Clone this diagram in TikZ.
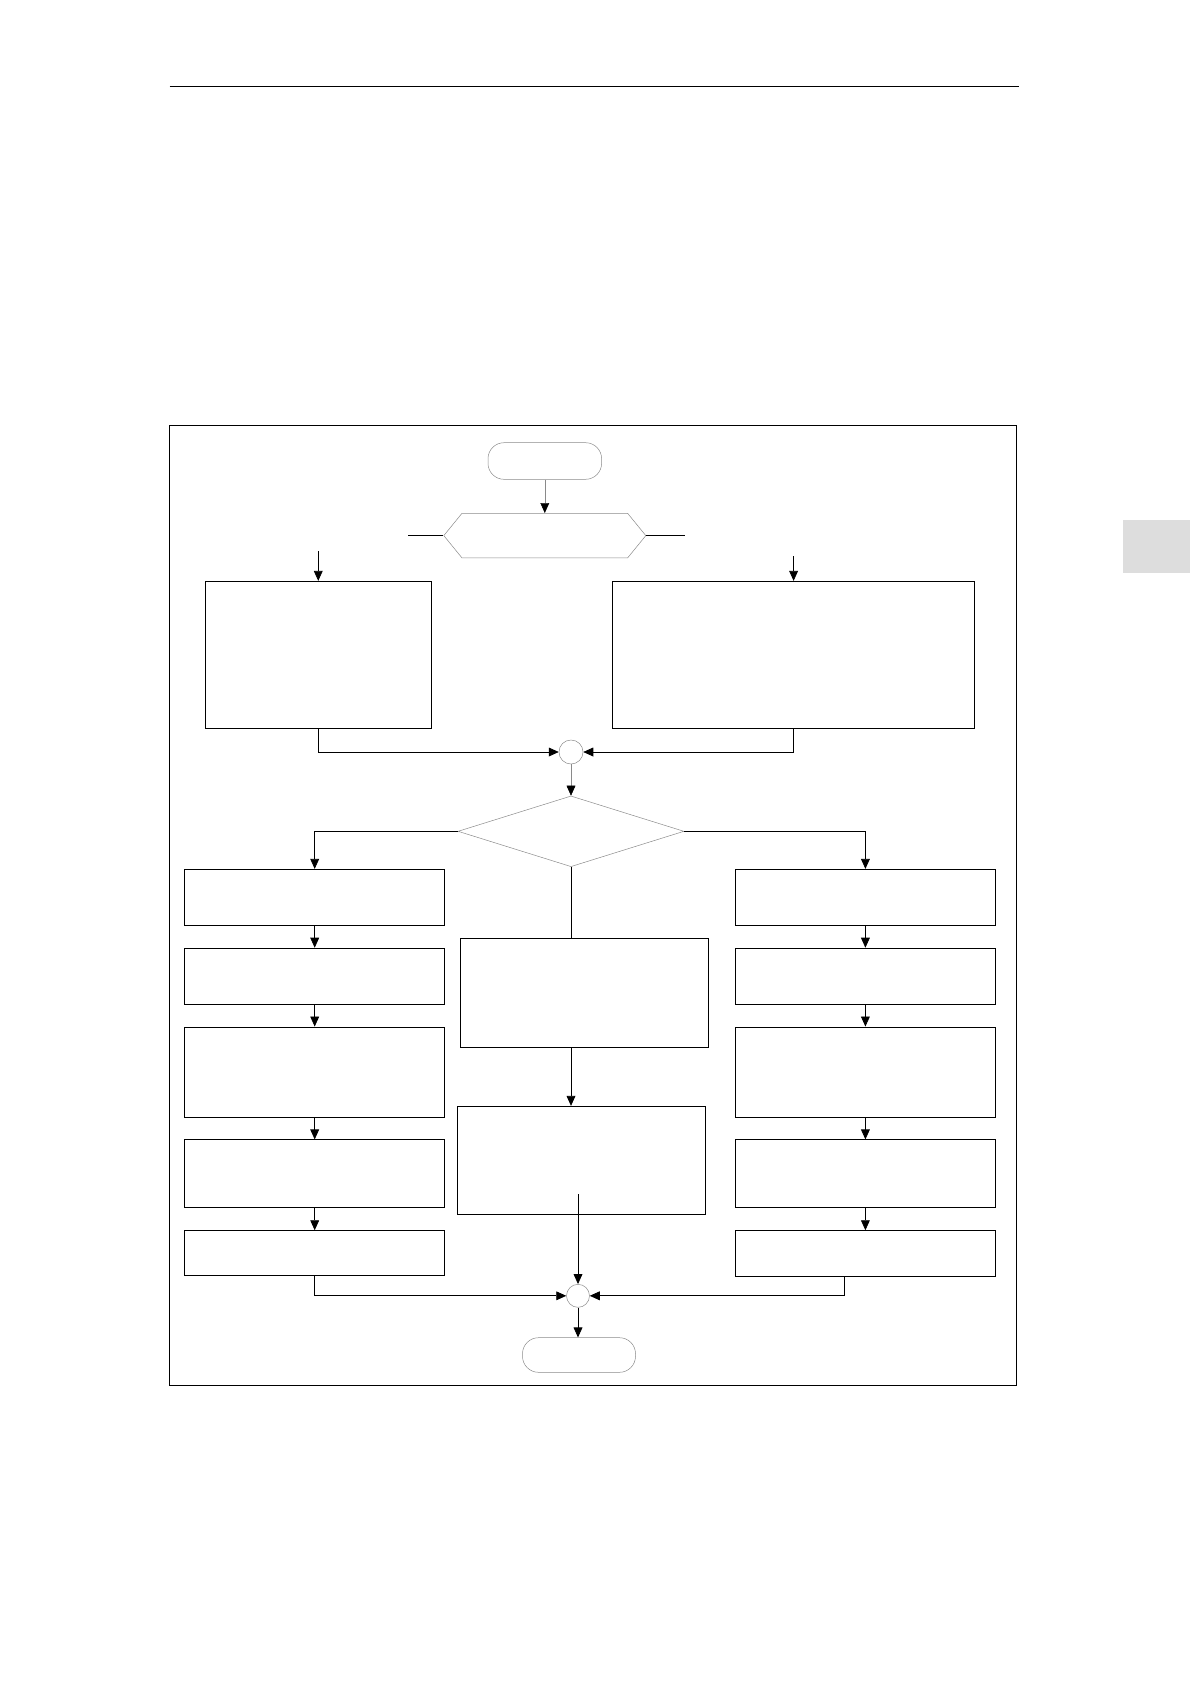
\documentclass[tikz,border=0pt]{standalone}
\usetikzlibrary{
    shapes.geometric,
    shapes.symbols,
    arrows.meta,
    positioning
}
\definecolor{tabGray}{HTML}{DDDDDD}
\definecolor{outlineGray}{HTML}{8A8A8A}
\tikzset{
    % Base style for the plain process boxes
    stage/.style={
        rectangle,
        draw=black,
        line width=1.2pt,
        inner sep=0pt,
        minimum width=130mm,
    },
    % Start/Stop nodes - thin grey capsule
    terminal/.style={
        rectangle,
        rounded corners=8mm,
        draw=outlineGray,
        line width=0.7pt,
        inner sep=0pt,
    },
    % Preparation node - hexagon
    prepare/.style={
        signal,
        signal to=east and west,
        signal pointer angle=101.6,
        draw=outlineGray,
        line width=0.7pt,
        inner sep=0pt,
        minimum width=101mm,
        minimum height=22.35mm,
    },
    % Decision diamond
    decision/.style={
        diamond,
        draw=outlineGray,
        line width=0.7pt,
        inner sep=0pt,
        minimum width=113mm,
        minimum height=35.35mm,
    },
    % Junction circles
    junction/.style={
        circle,
        draw=outlineGray,
        line width=0.7pt,
        inner sep=0pt,
        minimum size=#1,
    },
    junction/.default=12mm,
    % Arrow style - filled narrow triangle
    arrow/.style={
        -{Triangle[length=5mm, width=4.4mm, color=black]},
        line width=1.1pt,
        draw=black,
    },
    % Grey arrow variant
    arrow thin/.style={
        arrow,
        draw=outlineGray,
        line width=0.7pt,
    },
    % Plain connector without tip
    link/.style={
        line width=1.1pt,
        draw=black,
    },
}

\begin{document}
\begin{tikzpicture}[x=0.5mm, y=-0.5mm, node distance=11mm]
    \useasboundingbox (0,0) rectangle (1190,1683);

    % page furniture
    \draw [line width=1.3pt] (169.6,86) -- (1018.7,86);
    \fill [tabGray] (1122.7,520) rectangle (1190,573.3);
    \draw [line width=1.3pt] (169.3,425.7) rectangle (1016.8,1385);

    % top part
    \node (start) [terminal, minimum width=56.8mm, minimum height=18.3mm] at (544.8,461) {};
    \node (prep) [prepare] at (544.8,535.6) {};
    \coordinate (prepL) at (408,535.6);
    \coordinate (prepR) at (685,535.6);
    \coordinate (feedA) at (318.25,551);
    \coordinate (feedB) at (793.6,556);
    \node (inA) [stage, minimum width=113.25mm, minimum height=73.5mm] at (318.25,654.8) {};
    \node (inB) [stage, minimum width=181mm, minimum height=73.5mm] at (793.6,654.8) {};
    \node (join1) [junction] at (571,752) {};
    \node (choice) [decision] at (571,831.3) {};

    % left branch
    \node (left1) [stage, minimum height=28mm] at (314.7,897.3) {};
    \node (left2) [stage, minimum height=28mm, below=of left1] {};
    \node (left3) [stage, minimum height=45mm, below=of left2] {};
    \node (left4) [stage, minimum height=34mm, below=of left3] {};
    \node (left5) [stage, minimum height=22.5mm, below=of left4] {};

    % right branch
    \node (right1) [stage, minimum height=28mm] at (865.4,897.3) {};
    \node (right2) [stage, minimum height=28mm, below=of right1] {};
    \node (right3) [stage, minimum height=45mm, below=of right2] {};
    \node (right4) [stage, minimum height=34mm, below=of right3] {};
    \node (right5) [stage, minimum height=23mm, below=of right4] {};

    % middle branch
    \node (mid1) [stage, minimum width=124mm, minimum height=54.5mm] at (584.5,992.8) {};
    \node (mid2) [stage, minimum width=124.25mm, minimum height=54mm] at (581.5,1160.3) {};
    \coordinate (midTap) at (578,1194);

    % bottom part
    \node (join2) [junction=11.5mm] at (578,1295.8) {};
    \node (stop) [terminal, minimum width=56.5mm, minimum height=17.3mm] at (579,1355) {};

    \draw [arrow thin] (start) -- (prep);
    \draw [link] (prepL) -- (prep.west);
    \draw [link] (prep.east) -- (prepR);
    \draw [arrow] (feedA) -- (inA.north);
    \draw [arrow] (feedB) -- (inB.north);
    \draw [arrow] (inA.south) |- (join1.west);
    \draw [arrow] (inB.south) |- (join1.east);
    \draw [arrow thin] (join1) -- (choice);
    \draw [arrow] (choice.west) -| (left1.north);
    \draw [arrow] (choice.east) -| (right1.north);
    \draw [link] (choice.south) -- (choice.south |- mid1.north);
    \draw [arrow] (choice.south |- mid1.south) -- (choice.south |- mid2.north);
    \draw [arrow] (left1) -- (left2);
    \draw [arrow] (left2) -- (left3);
    \draw [arrow] (left3) -- (left4);
    \draw [arrow] (left4) -- (left5);
    \draw [arrow] (right1) -- (right2);
    \draw [arrow] (right2) -- (right3);
    \draw [arrow] (right3) -- (right4);
    \draw [arrow] (right4) -- (right5);
    \draw [arrow] (midTap) -- (join2.north);
    \draw [arrow] (left5.south) |- (join2.west);
    \draw [arrow] ([xshift=-10.4mm]right5.south) |- (join2.east);
    \draw [arrow] (join2.south) -- (join2.south |- stop.north);
\end{tikzpicture}
\end{document}
